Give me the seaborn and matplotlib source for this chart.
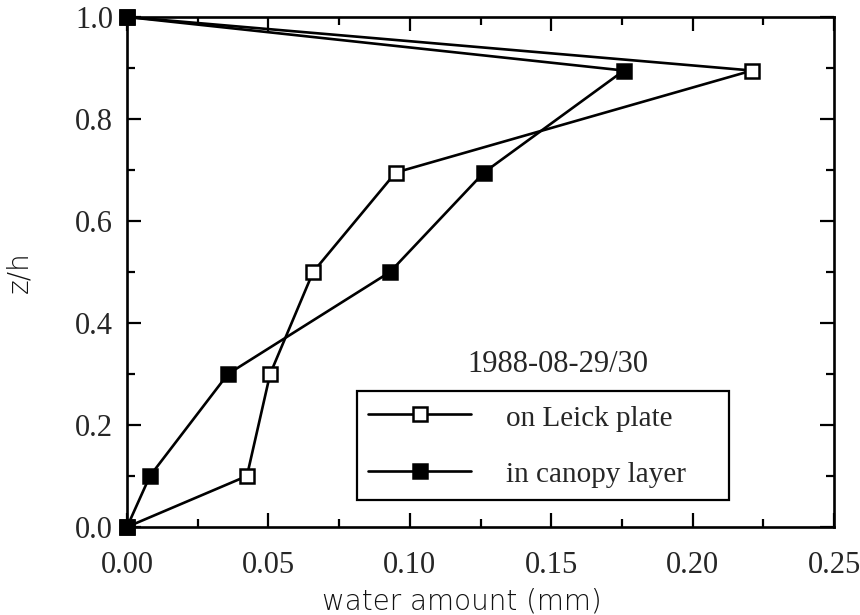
import matplotlib
matplotlib.use("Agg")
import matplotlib.pyplot as plt
from matplotlib.ticker import MultipleLocator, FormatStrFormatter
import seaborn as sns
import pandas as pd

# Relative height z/h of each sampling level
heights = [0.0, 0.1, 0.3, 0.5, 0.695, 0.895, 1.0]
# Water amount (mm) intercepted on the Leick plate
leick_plate = [0.0, 0.0424, 0.0506, 0.0658, 0.095, 0.221, 0.0]
# Water amount (mm) held in the canopy layer
canopy_layer = [0.0, 0.0081, 0.0357, 0.093, 0.1262, 0.1757, 0.0]

series_names = ["on Leick plate", "in canopy layer"]
date_label = "1988-08-29/30"
x_label = "water amount (mm)"
y_label = "z/h"

sns.set_theme(style="ticks")
plt.rcParams["font.family"] = ["Liberation Serif", "DejaVu Serif"]

df_plate = pd.DataFrame({"water": leick_plate, "z": heights})
df_canopy = pd.DataFrame({"water": canopy_layer, "z": heights})

fig = plt.figure(figsize=(8.6, 6.15), dpi=100)
ax = fig.add_axes([0.1477, 0.1431, 0.8221, 0.8293])

line_kws = dict(color="black", linewidth=1.9, markersize=10.5,
                markeredgecolor="black", markeredgewidth=1.8)

sns.lineplot(data=df_plate, x="water", y="z", sort=False, estimator=None,
             marker="s", markerfacecolor="white", label=series_names[0],
             ax=ax, **line_kws)
sns.lineplot(data=df_canopy, x="water", y="z", sort=False, estimator=None,
             marker="s", markerfacecolor="black", label=series_names[1],
             ax=ax, **line_kws)

for ln in ax.lines:
    ln.set_clip_on(False)
    ln.set_zorder(5)

ax.set_xlim(0.0, 0.25)
ax.set_ylim(0.0, 1.0)
ax.xaxis.set_major_locator(MultipleLocator(0.05))
ax.xaxis.set_minor_locator(MultipleLocator(0.025))
ax.yaxis.set_major_locator(MultipleLocator(0.2))
ax.yaxis.set_minor_locator(MultipleLocator(0.1))
ax.xaxis.set_major_formatter(FormatStrFormatter("%.2f"))
ax.yaxis.set_major_formatter(FormatStrFormatter("%.1f"))

ax.tick_params(which="both", direction="in", top=True, right=True,
               color="black", width=1.6)
ax.tick_params(which="major", length=10)
ax.tick_params(which="minor", length=6)
ax.tick_params(axis="x", which="major", labelsize=22, pad=17)
ax.tick_params(axis="y", which="major", labelsize=22, pad=10)

for side in ax.spines.values():
    side.set_visible(True)
    side.set_linewidth(1.9)
    side.set_color("black")

ax.set_xlabel(x_label, family=["DejaVu Sans"], fontweight="light",
              fontsize=20, color="#111111")
ax.set_ylabel(y_label, family=["DejaVu Sans"], fontweight="light",
              fontsize=20, color="#111111")
ax.xaxis.set_label_coords(0.474, -0.118)
ax.yaxis.set_label_coords(-0.132, 0.5)

leg = ax.legend(loc="lower left", bbox_to_anchor=(0.325, 0.053, 0.526, 0.2),
                mode="expand", fancybox=False, framealpha=1, edgecolor="black",
                prop={"family": "Liberation Serif", "size": 21},
                handlelength=3.5, handletextpad=1.2, handleheight=1.0,
                labelspacing=0.95, borderpad=0.4, borderaxespad=0,
                numpoints=1, markerscale=1.0)
leg.get_frame().set_linewidth(1.6)

ax.text(0.610, 0.318, date_label, transform=ax.transAxes, ha="center",
        va="center", fontsize=22, family=["Liberation Serif"])

fig.savefig("out.png", dpi=100)
